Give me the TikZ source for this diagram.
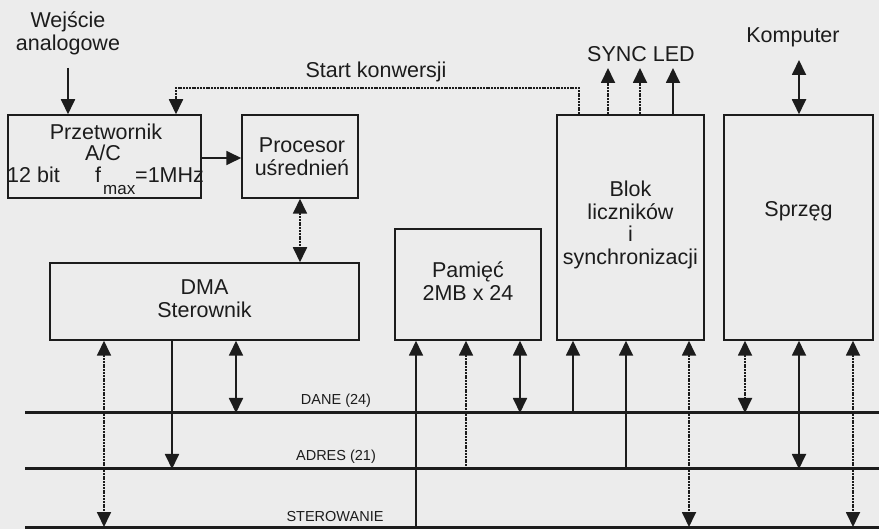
\documentclass[tikz,border=0pt]{standalone}
\usepackage{fontspec}
\setmainfont{Liberation Sans}
\usetikzlibrary{arrows.meta}
\definecolor{ink}{RGB}{28,28,28}
\definecolor{paper}{RGB}{236,236,236}
\newcommand\bigf{\fontsize{21.5}{22.8}\selectfont}
\newcommand\smallf{\fontsize{14.5}{16}\selectfont}
\tikzset{
  box/.style={draw=ink, line width=1.5pt, inner sep=0pt},
  lbl/.style={font=\bigf, text=ink, inner sep=0pt, align=center},
  buslbl/.style={font=\smallf, text=ink, inner sep=0pt},
  arr/.style={line width=1.8pt, draw=ink, -{Triangle[length=15pt,width=14pt]}},
  dbl/.style={line width=1.8pt, draw=ink, {Triangle[length=15pt,width=14pt]}-{Triangle[length=15pt,width=14pt]}},
  dots/.style={dash pattern=on 2pt off 0.8pt},
  bus/.style={line width=3pt, draw=ink},
}
\begin{document}
\begin{tikzpicture}[x=1pt,y=-1pt]
\fill[paper] (0,0) rectangle (879,529);
\useasboundingbox (0,0) rectangle (879,529);

% boxes
\node[box, minimum width=193pt, minimum height=83pt] (adc) at (104.5,156.5) {};
\node[box, minimum width=116pt, minimum height=83pt] (proc) at (300,156.5) {};
\node[box, minimum width=309pt, minimum height=77pt] (dma) at (204.5,301.5) {};
\node[box, minimum width=146pt, minimum height=111pt] (pam) at (468,284.5) {};
\node[box, minimum width=147pt, minimum height=225pt] (blok) at (630.5,227.5) {};
\node[box, minimum width=149pt, minimum height=225pt] (sprz) at (798.5,227.5) {};

% box texts
\node[lbl, anchor=base] (t1) at (106,140) {Przetwornik};
\node[lbl, anchor=base] (t2) at (103,161) {A/C};
\node[lbl, anchor=base west] (t3) at (7,183) {12 bit};
\node[lbl, anchor=base west] (t4) at (95,183) {f};
\node[lbl, anchor=base west, font=\fontsize{17}{18}\selectfont] (t5) at (103,195) {max};
\node[lbl, anchor=base west] (t6) at (135,183) {=1MHz};
\node[lbl] (tproc) at (302,156.5) {Procesor\\uśrednień};
\node[lbl] (tdma) at (204.5,298.5) {DMA\\Sterownik};
\node[lbl] (tpam) at (468,281) {Pamięć\\2MB x 24};
\node[lbl] (tblok) at (630.5,225) {Blok\\liczników\\i\\synchronizacji};
\node[lbl, anchor=base] (tsprz) at (798.5,217) {Sprzęg};

% outside labels
\node[lbl] (wej) at (68,33.5) {Wejście\\analogowe};
\node[lbl, anchor=base] (start) at (376,78) {Start konwersji};
\node[lbl, anchor=base] (sync) at (641,62) {SYNC LED};
\node[lbl, anchor=base] (komp) at (793,43) {Komputer};

% free ends
\coordinate (wejin) at (68,68);
\coordinate (s1) at (608,68);
\coordinate (s2) at (640,68);
\coordinate (s3) at (673,68);
\coordinate (kin) at (799,60);
\coordinate (dane) at (25,413);
\coordinate (adres) at (25,469);
\coordinate (ster) at (25,527);

% buses
\draw[bus] (dane) -- (879,413);
\draw[bus] (adres) -- (879,469);
\draw[bus] (ster) -- (879,527);
\node[buslbl] (ldane) at (336,401) {DANE (24)};
\node[buslbl] (ladres) at (336,457) {ADRES (21)};
\node[buslbl] (lster) at (335,517) {STEROWANIE};

% top connectors
\draw[arr] (wejin) -- (wejin |- adc.north);
\draw[arr, dots] (579,0 |- blok.north) |- (176,88) -- (176,0 |- adc.north);
\draw[arr] (adc.east |- 0,158) -- (proc.west |- 0,158);
\draw[dbl, dots] (proc.south) -- (proc.south |- dma.north);
\draw[arr, dots] (s1 |- blok.north) -- (s1);
\draw[arr, dots] (s2 |- blok.north) -- (s2);
\draw[arr] (s3 |- blok.north) -- (s3);
\draw[dbl] (kin) -- (kin |- sprz.north);

% DMA to buses
\draw[dbl, dots] (104,0 |- dma.south) -- (104,0 |- ster);
\draw[arr] (172,0 |- dma.south) -- (172,0 |- adres);
\draw[dbl] (236,0 |- dma.south) -- (236,0 |- dane);

% Pamiec
\draw[arr] (416,0 |- ster) -- (416,0 |- pam.south);
\draw[arr, dots] (466,0 |- adres) -- (466,0 |- pam.south);
\draw[dbl] (520,0 |- pam.south) -- (520,0 |- dane);

% Blok
\draw[arr] (573,0 |- dane) -- (573,0 |- blok.south);
\draw[arr] (626,0 |- adres) -- (626,0 |- blok.south);
\draw[dbl, dots] (689,0 |- blok.south) -- (689,0 |- ster);

% Sprzeg
\draw[dbl, dots] (745,0 |- sprz.south) -- (745,0 |- dane);
\draw[dbl] (799,0 |- sprz.south) -- (799,0 |- adres);
\draw[dbl, dots] (853,0 |- sprz.south) -- (853,0 |- ster);
\end{tikzpicture}
\end{document}
